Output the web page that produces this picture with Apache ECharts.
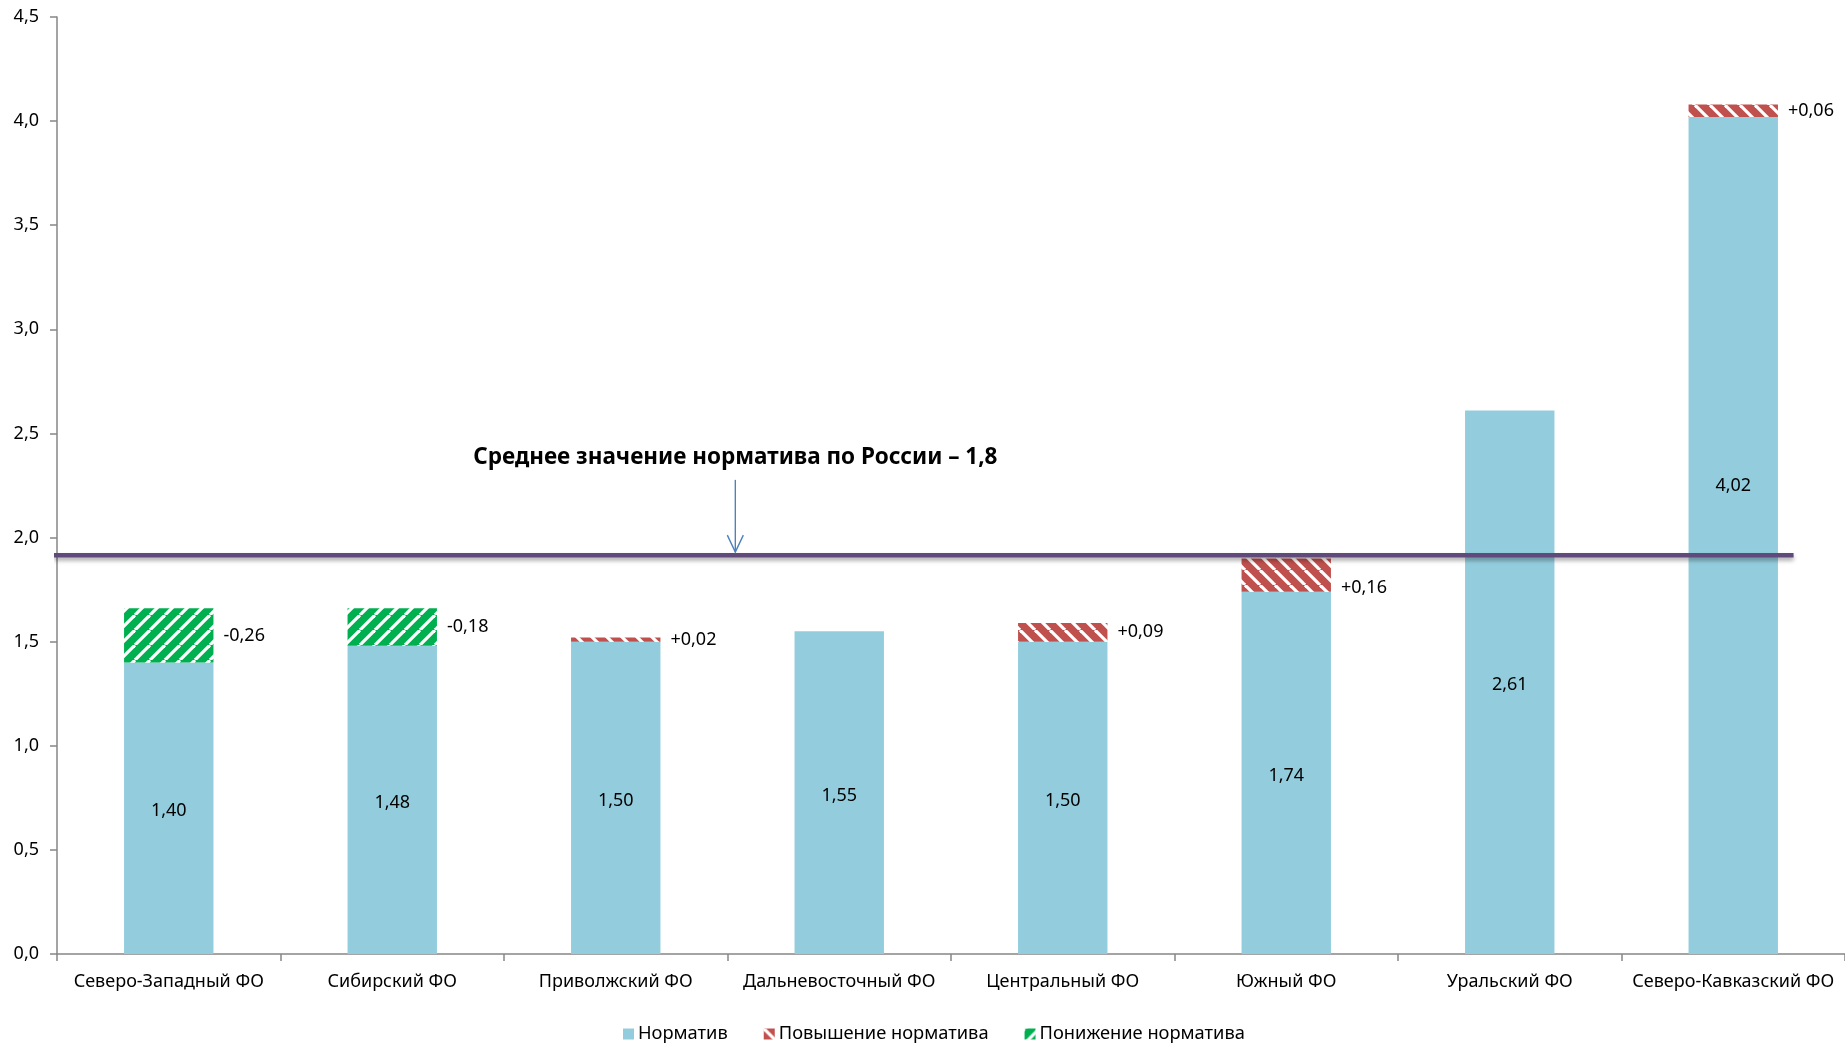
<!DOCTYPE html>
<html>
<head>
<meta charset="utf-8">
<script src="https://cdn.jsdelivr.net/npm/echarts@6/dist/echarts.min.js"></script>
<style>
html,body{margin:0;padding:0;background:#fff;}
#chart{width:1845px;height:1044px;}
</style>
</head>
<body>
<div id="chart"></div>
<script>
// ---- data ----
const categories = ['Северо-Западный ФО','Сибирский ФО','Приволжский ФО','Дальневосточный ФО','Центральный ФО','Южный ФО','Уральский ФО','Северо-Кавказский ФО'];
const baseValues = [1.40, 1.48, 1.50, 1.55, 1.50, 1.74, 2.61, 4.02];
const increaseValues = [null, null, 0.02, null, 0.09, 0.16, null, 0.06];
const decreaseValues = [0.26, 0.18, null, null, null, null, null, null];
const seriesNames = ['Норматив', 'Повышение норматива', 'Понижение норматива'];
const avgLineLevel = 1.915;
const avgText = 'Среднее значение норматива по России – 1,8';
const yMin = 0, yMax = 4.5, yInterval = 0.5;

// ---- styles ----
const FONT = 'Noto Sans';
const BLUE = '#93cddd', RED = '#c0504d', GREEN = '#00b050', PURPLE = '#604a7b', AXIS = '#868686';

function stripePattern(color, dir) {
  const s = 15;
  const c = document.createElement('canvas');
  c.width = s; c.height = s;
  const ctx = c.getContext('2d');
  ctx.fillStyle = color; ctx.fillRect(0, 0, s, s);
  ctx.strokeStyle = '#ffffff'; ctx.lineWidth = 3.2;
  for (const k of [-s, 0, s]) {
    ctx.beginPath();
    if (dir === '/') { ctx.moveTo(k, s); ctx.lineTo(k + s, 0); }
    else { ctx.moveTo(k, 0); ctx.lineTo(k + s, s); }
    ctx.stroke();
  }
  return { image: c, repeat: 'repeat' };
}
const fmt = v => v.toFixed(2).replace('.', ',');

const chart = echarts.init(document.getElementById('chart'), null, { renderer: 'canvas' });

const baseData = baseValues.map((v, i) => {
  const item = { value: v };
  if (i === baseValues.length - 1) item.label = { offset: [0, -50] };
  return item;
});
const increaseData = increaseValues.map((v, i) => {
  const item = { value: v };
  if (i === 5) item.label = { offset: [0, 13] };
  return item;
});

const option = {
  animation: false,
  textStyle: { fontFamily: FONT, color: '#000' },
  grid: { left: 57, right: 0, top: 17, bottom: 90, containLabel: false },
  legend: {
    top: 1020, left: 618,
    itemWidth: 11, itemHeight: 11, itemGap: 36,
    textStyle: { fontFamily: FONT, fontSize: 18.3, color: '#000', padding: [0, 0, 0, -1] },
    data: seriesNames.map(n => ({ name: n, icon: 'rect' }))
  },
  xAxis: [{
    type: 'category', data: categories,
    axisLine: { lineStyle: { color: AXIS, width: 1.5 } },
    axisTick: { show: true, length: 7, alignWithLabel: false, lineStyle: { color: AXIS, width: 1.5 } },
    axisLabel: { interval: 0, margin: 19, fontFamily: FONT, fontSize: 18, color: '#000' }
  }, {
    type: 'value', min: 0, max: 8, show: false
  }],
  yAxis: {
    type: 'value', min: yMin, max: yMax, interval: yInterval,
    splitLine: { show: false },
    axisLine: { show: true, lineStyle: { color: AXIS, width: 1.5 } },
    axisTick: { show: true, inside: false, length: 7, lineStyle: { color: AXIS, width: 1.5 } },
    axisLabel: { margin: 18, fontFamily: FONT, fontSize: 18, color: '#000', formatter: v => v.toFixed(1).replace('.', ',') }
  },
  series: [{
    name: seriesNames[0], type: 'bar', stack: 'a', barWidth: '40%',
    itemStyle: { color: BLUE },
    label: { show: true, position: 'inside', offset: [0, 3], fontFamily: FONT, fontSize: 18, color: '#000', formatter: p => fmt(p.value) },
    data: baseData
  }, {
    name: seriesNames[1], type: 'bar', stack: 'a', barWidth: '40%',
    itemStyle: { color: stripePattern(RED, '\\') },
    label: { show: true, position: 'right', distance: 10, fontFamily: FONT, fontSize: 18, color: '#000', formatter: p => '+' + fmt(p.value) },
    data: increaseData
  }, {
    name: seriesNames[2], type: 'bar', stack: 'a', barWidth: '40%',
    itemStyle: { color: stripePattern(GREEN, '/') },
    label: { show: true, position: 'right', distance: 10, fontFamily: FONT, fontSize: 18, color: '#000', formatter: p => '-' + fmt(p.value) },
    data: decreaseValues
  }, {
    name: 'avg', type: 'line', xAxisIndex: 1, clip: false, silent: true,
    symbol: 'none',
    lineStyle: { color: PURPLE, width: 4.5, shadowColor: 'rgba(0,0,0,0.35)', shadowBlur: 4, shadowOffsetY: 3 },
    data: [[-0.014, avgLineLevel], [7.77, avgLineLevel]],
    z: 5
  }, {
    name: 'annotation', type: 'custom', xAxisIndex: 1, clip: false, silent: true, z: 6,
    data: [[3.035, 2.277, 1.93, 2.385]],
    renderItem: (params, api) => {
      const p0 = api.coord([api.value(0), api.value(1)]);
      const p1 = api.coord([api.value(0), api.value(2)]);
      const pt = api.coord([api.value(0), api.value(3)]);
      return {
        type: 'group',
        children: [{
          type: 'line', shape: { x1: p0[0], y1: p0[1], x2: p1[0], y2: p1[1] },
          style: { stroke: '#4f81bd', lineWidth: 1.4 }
        }, {
          type: 'polyline', shape: { points: [[p1[0] - 8, p1[1] - 17], [p1[0], p1[1]], [p1[0] + 8, p1[1] - 17]] },
          style: { stroke: '#4f81bd', lineWidth: 1.4, fill: null }
        }, {
          type: 'text', x: pt[0], y: pt[1],
          style: { text: avgText, fontFamily: FONT, fontWeight: 'bold', fontSize: 22.5, fill: '#000', align: 'center', verticalAlign: 'middle' }
        }]
      };
    }
  }]
};
chart.setOption(option);
</script>
</body>
</html>
